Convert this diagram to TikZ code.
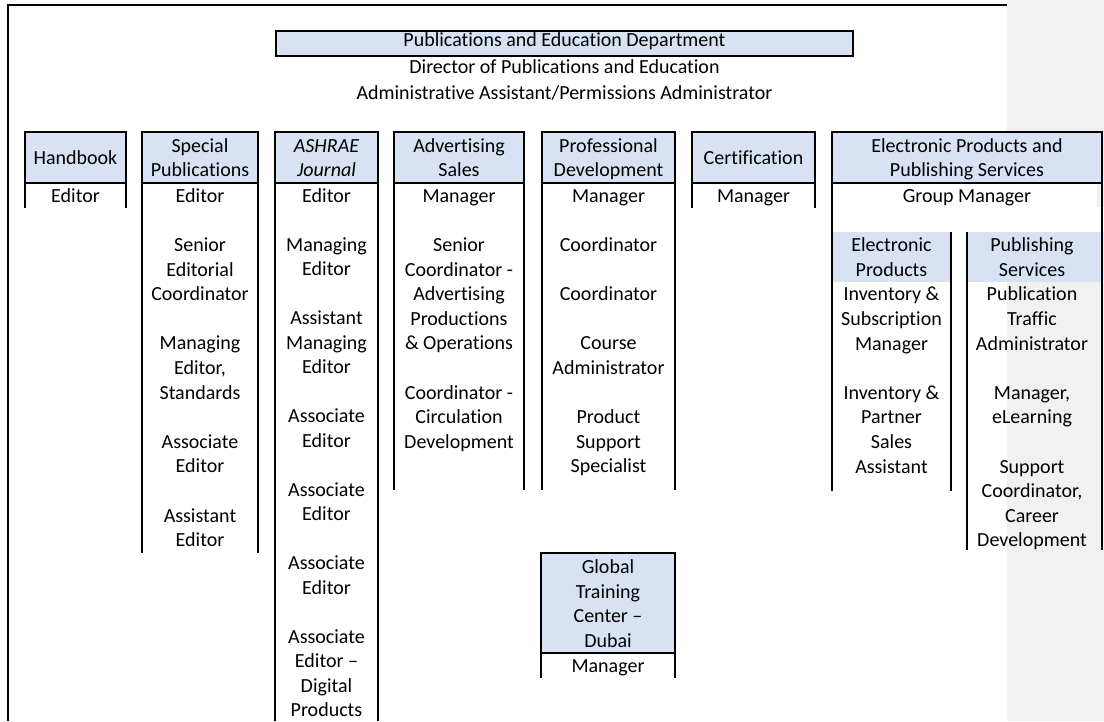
\documentclass[tikz,border=0pt]{standalone}
\usepackage{fontspec}
\setmainfont{Carlito}[Ligatures={TeX,NoCommon}]
\definecolor{hblue}{HTML}{D9E2F3}
\definecolor{band}{HTML}{F1F1F1}
\newcommand\fl{\rule{0pt}{17pt}}
\newcommand\fs{\fontsize{20}{24.6}\selectfont}
\newcommand\fsb{\fontsize{20}{24.5}\selectfont}
\begin{document}
\begin{tikzpicture}[x=1pt,y=-1pt,
  hdr/.style={draw=black, fill=hblue, line width=1.1pt, inner sep=0pt, outer sep=0pt},
  hfill/.style={fill=hblue, inner sep=0pt, outer sep=0pt},
  ln/.style={line width=1.1pt},
  txt/.style={anchor=north, align=center, inner sep=0pt, font=\fs},
  one/.style={anchor=base, inner sep=0pt, font=\fs}]
\useasboundingbox (0,0) rectangle (1104,721);
% grey margin band
\fill[band] (1007,0) rectangle (1104,721);
% outer frame
\draw[ln] (8,721) -- (8,5) -- (1007,5);

% title
\node[hdr, minimum width=577, minimum height=25] (top) at (564.5,43.5) {};
\node[one] (topt) at (564.5,46) {Publications and Education Department};
\node[one] (dir) at (564.5,73.4) {Director of Publications and Education};
\node[one] (adm) at (564.5,99) {Administrative Assistant/Permissions Administrator};

% white areas inside the EPPS box
\fill[white] (832,183) rectangle (1097,207);
\fill[white] (832,207) rectangle (1104,232);
\node[hfill, minimum width=119, minimum height=50] (h7a) at (891.5,257) {};
\node[hfill, minimum width=135, minimum height=50] (h7b) at (1034.5,257) {};

% headers
\node[hdr, minimum width=101, minimum height=51] (h1) at (75.5,157.5) {};
\node[hdr, minimum width=116, minimum height=51] (h2) at (200,157.5) {};
\node[hdr, minimum width=103, minimum height=51] (h3) at (326.5,157.5) {};
\node[hdr, minimum width=130, minimum height=51] (h4) at (459,157.5) {};
\node[hdr, minimum width=133, minimum height=51] (h5) at (608.5,157.5) {};
\node[hdr, minimum width=123, minimum height=51] (h6) at (753.5,157.5) {};
\node[hdr, minimum width=270, minimum height=51] (h7) at (967,157.5) {};
\node[hdr, minimum width=134, minimum height=100] (h8) at (608,603) {};

% column side lines
\draw[ln] (h1.north west) -- (h1.north west |- 0,207.5);
\draw[ln] (h1.north east) -- (h1.north east |- 0,207.5);
\draw[ln] (h2.north west) -- (h2.north west |- 0,553);
\draw[ln] (h2.north east) -- (h2.north east |- 0,553);
\draw[ln] (h3.north west) -- (h3.north west |- 0,721);
\draw[ln] (h3.north east) -- (h3.north east |- 0,721);
\draw[ln] (h4.north west) -- (h4.north west |- 0,490);
\draw[ln] (h4.north east) -- (h4.north east |- 0,490);
\draw[ln] (h5.north west) -- (h5.north west |- 0,490);
\draw[ln] (h5.north east) -- (h5.north east |- 0,490);
\draw[ln] (h6.north west) -- (h6.north west |- 0,207.5);
\draw[ln] (h6.north east) -- (h6.north east |- 0,207.5);
\draw[ln] (h7.north west) -- (h7.north west |- 0,491);
\draw[ln] (h7.north east) -- (h7.north east |- 0,550);
\draw[ln] (h7a.north east) -- (h7a.north east |- 0,491);
\draw[ln] (h7b.north west) -- (h7b.north west |- 0,550);
\draw[ln] (h8.north west) -- (h8.north west |- 0,678);
\draw[ln] (h8.north east) -- (h8.north east |- 0,678);

% header texts
\node[one] (h1t) at (75.5,164) {Handbook};
\node[txt] (h2t) at (200,135) {\fl Special\\Publications};
\node[txt, font=\fs\itshape] (h3t) at (326.5,135) {\fl ASHRAE\\Journal};
\node[txt] (h4t) at (459,135) {\fl Advertising\\Sales};
\node[txt] (h5t) at (608.5,135) {\fl Professional\\Development};
\node[one] (h6t) at (753.5,164) {Certification};
\node[txt] (h7t) at (967,135) {\fl Electronic Products and\\Publishing Services};
\node[txt] (h7at) at (891.5,234.3) {\fl Electronic\\Products};
\node[txt] (h7bt) at (1032,234.3) {\fl Publishing\\Services};
\node[txt] (h8t) at (608,556.5) {\fl Global\\Training\\Center –\\Dubai};

% body texts
\node[one] (b1) at (75.5,202) {Editor};
\node[txt] (b2) at (200,185) {\fl Editor\\~\\Senior\\Editorial\\Coordinator\\~\\Managing\\Editor,\\Standards\\~\\Associate\\Editor\\~\\Assistant\\Editor};
\node[txt, font=\fsb] (b3) at (326.5,185) {\fl Editor\\~\\Managing\\Editor\\~\\Assistant\\Managing\\Editor\\~\\Associate\\Editor\\~\\Associate\\Editor\\~\\Associate\\Editor\\~\\Associate\\Editor –\\Digital\\Products};
\node[txt] (b4) at (459,185) {\fl Manager\\~\\Senior\\Coordinator -\\Advertising\\Productions\\\& Operations\\~\\Coordinator -\\Circulation\\Development};
\node[txt] (b5) at (608.5,185) {\fl Manager\\~\\Coordinator\\~\\Coordinator\\~\\Course\\Administrator\\~\\Product\\Support\\Specialist};
\node[one] (b6) at (753.5,202) {Manager};
\node[one] (b7) at (967,202) {Group Manager};
\node[txt] (b7a) at (891.5,283.6) {\fl Inventory \&\\Subscription\\Manager\\~\\Inventory \&\\Partner\\Sales\\Assistant};
\node[txt] (b7b) at (1032,283.6) {\fl Publication\\Traffic\\Administrator\\~\\Manager,\\eLearning\\~\\Support\\Coordinator,\\Career\\Development};
\node[one] (b8) at (608,672.5) {Manager};
\end{tikzpicture}
\end{document}
